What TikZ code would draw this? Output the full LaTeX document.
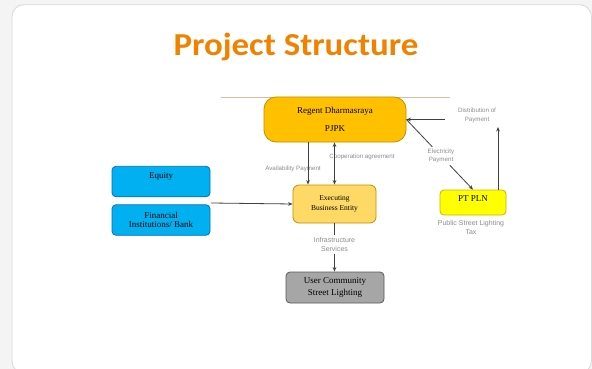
\documentclass[tikz,border=0pt]{standalone}
\usepackage{fontspec}
\usetikzlibrary{arrows.meta,calc}
\newfontfamily\titlefont{Carlito}
\newfontfamily\boxfont{Liberation Serif}
\newfontfamily\lblfont{Liberation Sans}
\definecolor{bg}{HTML}{F4F4F4}
\definecolor{cardedge}{HTML}{D9D9D9}
\definecolor{titleor}{HTML}{F08200}
\definecolor{regfill}{HTML}{FFC000}
\definecolor{regedge}{HTML}{BF9000}
\definecolor{exfill}{HTML}{FFD966}
\definecolor{bluefill}{HTML}{00B0F0}
\definecolor{blueedge}{HTML}{0070C0}
\definecolor{plnfill}{HTML}{FFFF00}
\definecolor{plnedge}{HTML}{C8B400}
\definecolor{userfill}{HTML}{A6A6A6}
\definecolor{useredge}{HTML}{595959}
\definecolor{tanline}{HTML}{E2BC98}
\definecolor{lblgray}{HTML}{8C8C8C}
\definecolor{linegray}{HTML}{404040}
\tikzset{
  boxbase/.style={draw, line width=0.8pt, inner sep=0pt, align=center, font=\boxfont\fontsize{9}{11.5}\selectfont},
  regentbox/.style={boxbase, fill=regfill, draw=regedge, rounded corners=12pt, minimum width=142pt, minimum height=45pt},
  execbox/.style={boxbase, fill=exfill, draw=regedge, rounded corners=6pt, minimum width=83pt, minimum height=38pt, font=\boxfont\fontsize{7.5}{10}\selectfont},
  bluebox/.style={boxbase, fill=bluefill, draw=blueedge, rounded corners=4pt, minimum width=98pt, minimum height=30.5pt, font=\boxfont\fontsize{9}{9.5}\selectfont},
  plnbox/.style={boxbase, fill=plnfill, draw=plnedge, rounded corners=4pt, minimum width=66pt, minimum height=25pt},
  userbox/.style={boxbase, fill=userfill, draw=useredge, rounded corners=4pt, minimum width=98pt, minimum height=31pt},
  lbl/.style={text=lblgray, align=center, inner sep=2pt, font=\lblfont\fontsize{6.2}{8.3}\selectfont},
  lblbig/.style={lbl, font=\lblfont\fontsize{7}{8.8}\selectfont},
  conn/.style={draw=linegray, line width=0.8pt},
  arr/.style={conn, -{Stealth[length=4.5pt,width=3.6pt]}},
  darr/.style={conn, {Stealth[length=4.5pt,width=3.6pt]}-{Stealth[length=4.5pt,width=3.6pt]}}
}
\begin{document}
\begin{tikzpicture}[x=1pt,y=-1pt]
\useasboundingbox (0,0) rectangle (592,369);
\fill[bg] (0,0) rectangle (592,369);
\draw[cardedge, fill=white, line width=0.8pt, rounded corners=12pt] (12,4.7) rectangle (591.5,373);
\node[font=\titlefont\bfseries\fontsize{32}{36}\selectfont, text=titleor, anchor=base, inner sep=0pt] (title) at (296,56) {\scalebox{1.09}[1]{Project Structure}};

\coordinate (tanL) at (221,97.5);
\coordinate (tanR) at (450,97.5);
\draw[tanline, line width=0.8pt] (tanL) -- (tanR);

\node[regentbox] (regent) at (335,119.5) {Regent Dharmasraya\\[6.5pt]PJPK};
\node[execbox] (exec) at (334.5,204) {Executing\\Business Entity};
\node[bluebox, text height=7pt, text depth=13pt] (equity) at (161,181.5) {Equity};
\node[bluebox] (fin) at (161,220) {Financial\\Institutions/ Bank};
\node[userbox] (user) at (335,287.5) {User Community\\Street Lighting};
\node[plnbox, text height=7pt, text depth=10pt] (pln) at (473,202.5) {PT PLN};

\node[lbl] (avail) at (293,169) {Availability Payment};
\node[lbl] (coop) at (362,157) {Cooperation agreement};
\node[lblbig] (infra) at (334.5,244.5) {Infrastructure\\Services};
\node[lbl] (elec) at (441,156) {Electricity\\Payment};
\node[lbl] (dist) at (477,115.5) {Distribution of\\Payment};
\node[lblbig] (tax) at (471,227.5) {Public Street Lighting\\Tax};

\draw[arr] ([xshift=-27pt]regent.south) -- ([xshift=-26.5pt]exec.north);
\draw[darr] (exec.north) -- (exec.north |- regent.south);
\coordinate (src) at (211,203);
\draw[arr] (src) -- (exec.west);
\draw[conn] (exec.south) -- (infra.north -| exec.south);
\draw[arr] (infra.south -| exec.south) -- (user.north -| exec.south);
\draw[conn] (regent.east) -- (elec);
\draw[arr] (elec) -- (pln.north);
\coordinate (distin) at (498,127);
\coordinate (distout) at (445,119.5);
\draw[arr] (pln.north -| distin) -- (distin);
\draw[arr] (distout) -- (regent.east);
\end{tikzpicture}
\end{document}
